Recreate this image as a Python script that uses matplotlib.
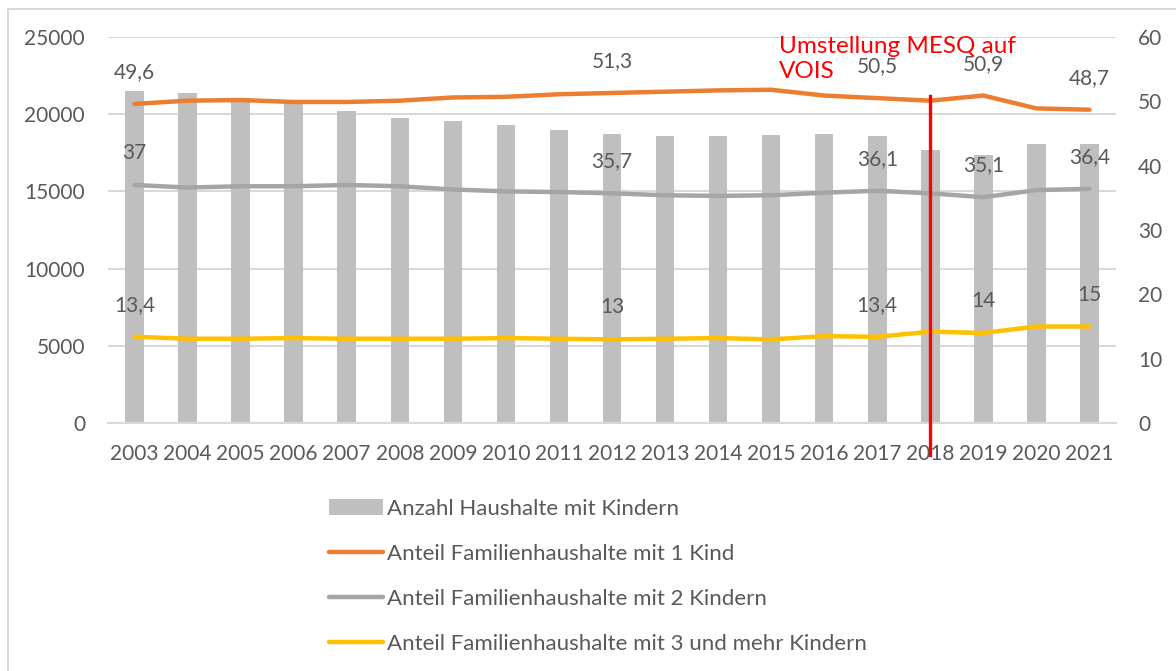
import matplotlib
matplotlib.use("Agg")
import matplotlib.pyplot as plt
from matplotlib.patches import Rectangle

plt.rcParams['font.family'] = ['Lato', 'DejaVu Sans']

years = list(range(2003, 2022))
haushalte = [21500, 21350, 21030, 20750, 20200, 19750, 19550, 19270, 18990, 18730,
             18600, 18600, 18640, 18710, 18580, 17650, 17360, 18040, 18060]
kind1 = [49.6, 50.1, 50.2, 49.9, 49.9, 50.1, 50.6, 50.7, 51.1, 51.3,
         51.5, 51.7, 51.8, 50.9, 50.5, 50.1, 50.9, 48.9, 48.7]
kind2 = [37.0, 36.6, 36.8, 36.8, 37.0, 36.8, 36.3, 36.0, 35.9, 35.7,
         35.4, 35.3, 35.4, 35.8, 36.1, 35.7, 35.1, 36.2, 36.4]
kind3 = [13.4, 13.1, 13.1, 13.2, 13.1, 13.1, 13.1, 13.2, 13.1, 13.0,
         13.1, 13.2, 13.0, 13.5, 13.4, 14.2, 14.0, 15.0, 15.0]
label_years = [2003, 2012, 2017, 2019, 2021]

series = [
    ("Anteil Familienhaushalte mit 1 Kind", kind1, "#ED7D31"),
    ("Anteil Familienhaushalte mit 2 Kindern", kind2, "#A5A5A5"),
    ("Anteil Familienhaushalte mit 3 und mehr Kindern", kind3, "#FFC000"),
]

TXT = "#595959"
GRID = "#D9D9D9"
FS = 15

W, H = 1176, 671
fig = plt.figure(figsize=(W / 100, H / 100), dpi=100)
ax = fig.add_axes([108 / W, (H - 423) / H, (1116 - 108) / W, (423 - 37) / H])
ax2 = ax.twinx()

bars = ax.bar(years, haushalte, width=0.35, color="#BFBFBF", label="Anzahl Haushalte mit Kindern", zorder=2)
ax.set_ylim(0, 25000)
ax.set_yticks(range(0, 25001, 5000))
ax.set_xlim(years[0] - 0.5, years[-1] + 0.5)
ax.set_xticks(years)
ax.grid(axis="y", color=GRID, lw=1.5, zorder=0)
ax.set_axisbelow(True)
for s in ["top", "left", "right"]:
    ax.spines[s].set_visible(False)
ax.spines["bottom"].set_color(GRID)
ax.spines["bottom"].set_linewidth(1.5)
ax.tick_params(axis="both", length=0, labelsize=FS, colors=TXT)
ax.tick_params(axis="y", pad=16.5)
ax.tick_params(axis="x", pad=15)

handles = [bars]
for name, vals, col in series:
    ln, = ax2.plot(years, vals, color=col, lw=3.2, solid_capstyle="round",
                   solid_joinstyle="round", label=name, zorder=3)
    handles.append(ln)
    for y, v in zip(years, vals):
        if y in label_years:
            ax2.annotate(f"{v:g}".replace(".", ","), (y, v), xytext=(0, 23),
                         textcoords="offset points", ha="center", va="center",
                         fontsize=FS, color=TXT)

ax2.set_ylim(0, 60)
ax2.set_yticks(range(0, 61, 10))
for s in ax2.spines.values():
    s.set_visible(False)
ax2.tick_params(axis="y", length=0, labelsize=FS, colors=TXT, pad=16)

# Umstellung marker
ax2.plot([2018.0, 2018.0], [50.9, -5.0], color="red", lw=2.4, clip_on=False, zorder=5)
ax2.text(2015.15, 60.1, "Umstellung MESQ auf\nVOIS", color="red", fontsize=17.5,
         ha="left", va="top", linespacing=1.2, zorder=6)

fig.legend(handles=handles, loc="upper left", bbox_to_anchor=(320 / W, 1 - 490 / H),
           ncol=1, frameon=False, fontsize=16, labelcolor=TXT, handlelength=2.43,
           handletextpad=0.18, labelspacing=1.12, borderaxespad=0)

fig.patches.append(Rectangle((8 / W, -0.1), 1.2, (H - 9) / H + 0.1, transform=fig.transFigure,
                             fill=False, edgecolor=GRID, lw=1.5))

fig.savefig("out.png", dpi=100)
